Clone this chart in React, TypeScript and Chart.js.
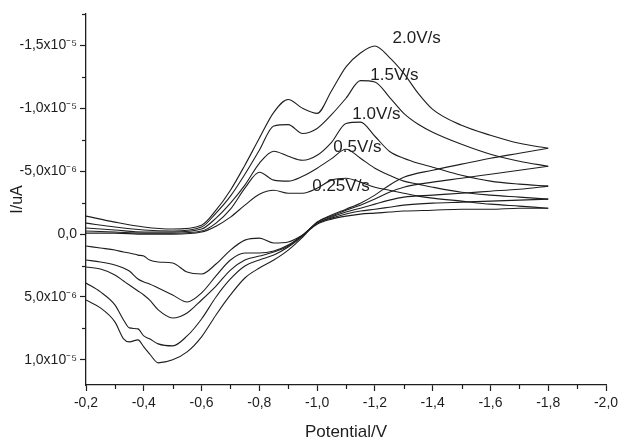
import { useEffect, useRef } from "react";
import { Chart, registerables } from "chart.js";

Chart.register(...registerables);

// Potential grids (V)
const FORWARD_E = [-0.2, -0.3, -0.4, -0.5, -0.6, -0.65, -0.7, -0.75, -0.8, -0.85, -0.9, -0.95, -1.0, -1.05, -1.1, -1.15, -1.2, -1.25, -1.3, -1.35, -1.4, -1.5, -1.6, -1.7, -1.8];
const REVERSE_E = [-1.8, -1.7, -1.6, -1.5, -1.4, -1.3, -1.25, -1.2, -1.15, -1.1, -1.05, -1.0, -0.95, -0.9, -0.85, -0.8, -0.75, -0.7, -0.65, -0.6, -0.55, -0.5, -0.45, -0.42, -0.4, -0.38, -0.35, -0.33, -0.3, -0.25, -0.2];

// Currents in units of 1e-6 A
const FWD_200 = [-1.43, -0.95, -0.56, -0.4, -0.71, -1.9, -3.49, -5.48, -7.62, -9.68, -10.7, -10.0, -9.6, -11.4, -13.3, -14.4, -14.95, -14.05, -12.78, -11.19, -9.92, -8.65, -7.86, -7.22, -6.83];
const FWD_150 = [-0.87, -0.56, -0.32, -0.24, -0.56, -1.67, -3.02, -4.76, -6.67, -8.6, -8.7, -8.0, -8.4, -9.5, -10.8, -12.2, -12.1, -10.9, -9.6, -8.73, -8.1, -7.14, -6.35, -5.79, -5.4];
const FWD_100 = [-0.48, -0.32, -0.16, -0.16, -0.4, -1.27, -2.46, -3.89, -5.63, -6.59, -6.19, -5.87, -6.27, -7.3, -8.8, -8.9, -7.78, -6.59, -6.03, -5.63, -5.32, -4.68, -4.21, -3.97, -3.81];
const FWD_050 = [-0.24, -0.16, -0.08, -0.08, -0.24, -0.87, -1.98, -3.65, -4.92, -4.29, -4.21, -4.6, -5.24, -6.0, -6.75, -6.03, -5.24, -4.68, -4.21, -3.97, -3.73, -3.33, -3.1, -2.94, -2.78];
const FWD_025 = [-0.08, -0.08, 0, 0, -0.16, -0.63, -1.35, -2.3, -3.17, -3.49, -3.25, -3.25, -3.65, -4.29, -4.44, -4.13, -3.73, -3.49, -3.25, -3.02, -2.86, -2.62, -2.38, -2.22, -2.06];

const REV_200 = [-6.83, -6.43, -6.03, -5.56, -5.08, -4.52, -3.89, -3.1, -2.46, -1.98, -1.51, -0.95, 0.24, 1.27, 2.06, 2.7, 3.49, 4.84, 6.43, 8.17, 9.37, 10.0, 10.24, 9.52, 8.97, 8.41, 8.57, 8.33, 6.98, 5.87, 5.24];
const REV_150 = [-5.4, -5.08, -4.76, -4.44, -4.13, -3.73, -3.33, -2.78, -2.3, -1.9, -1.43, -0.95, 0.16, 1.03, 1.67, 2.06, 2.54, 3.57, 5.0, 6.75, 8.1, 8.89, 8.73, 8.33, 8.1, 7.54, 7.46, 6.83, 5.63, 4.6, 3.89];
const REV_100 = [-3.81, -3.57, -3.41, -3.25, -3.1, -2.94, -2.7, -2.38, -2.06, -1.75, -1.35, -0.87, 0.08, 0.95, 1.43, 1.75, 2.06, 2.86, 4.13, 5.24, 6.27, 6.67, 6.03, 5.24, 4.84, 4.52, 4.05, 3.73, 3.25, 2.78, 2.62];
const REV_050 = [-2.78, -2.7, -2.62, -2.54, -2.46, -2.3, -2.14, -1.98, -1.83, -1.59, -1.27, -0.87, 0.08, 0.87, 1.35, 1.51, 1.51, 2.06, 3.33, 4.68, 5.4, 4.84, 4.29, 3.97, 3.81, 3.57, 2.94, 2.7, 2.46, 2.22, 2.06];
const REV_025 = [-2.06, -2.06, -1.98, -1.98, -1.9, -1.83, -1.75, -1.67, -1.59, -1.43, -1.19, -0.79, 0.08, 0.63, 0.71, 0.32, 0.48, 1.27, 2.38, 3.17, 3.02, 2.3, 2.22, 2.06, 1.75, 1.67, 1.51, 1.43, 1.27, 1.11, 0.95];

const RATE_LABELS = ["2.0V/s", "1.5V/s", "1.0V/s", "0.5V/s", "0.25V/s"];
const LABEL_E = [-1.261, -1.184, -1.122, -1.056, -0.983];
const LABEL_I = [-15.56, -12.62, -9.52, -6.9, -3.81];

const X_TICKS = [-0.2, -0.4, -0.6, -0.8, -1.0, -1.2, -1.4, -1.6, -1.8, -2.0];
const X_TICK_LABELS = ["-0,2", "-0,4", "-0,6", "-0,8", "-1,0", "-1,2", "-1,4", "-1,6", "-1,8", "-2,0"];
const X_MINOR = [-0.3, -0.5, -0.7, -0.9, -1.1, -1.3, -1.5, -1.7, -1.9];
const Y_TICKS = [-15, -10, -5, 0, 5, 10];
const Y_TICK_LABELS = ["-1,5x10\u207B\u2075", "-1,0x10\u207B\u2075", "-5,0x10\u207B\u2076", "0,0", "5,0x10\u207B\u2076", "1,0x10\u207B\u2075"];
const Y_MINOR = [-17.5, -12.5, -7.5, -2.5, 2.5, 7.5];

const FONT = '"Liberation Sans", Arial, sans-serif';
const INK = "#1e1e1e";

const annotate = {
  id: "annotate",
  afterDraw(chart: any) {
    const { ctx, chartArea } = chart;
    const x = chart.scales.x;
    const y = chart.scales.y;
    ctx.save();
    ctx.strokeStyle = INK;
    ctx.lineWidth = 1.2;
    X_MINOR.forEach((v) => {
      const px = Math.round(x.getPixelForValue(v)) + 0.5;
      ctx.beginPath();
      ctx.moveTo(px, chartArea.bottom);
      ctx.lineTo(px, chartArea.bottom + 4);
      ctx.stroke();
    });
    Y_MINOR.forEach((v) => {
      const py = Math.round(y.getPixelForValue(v)) + 0.5;
      ctx.beginPath();
      ctx.moveTo(chartArea.left, py);
      ctx.lineTo(chartArea.left - 4, py);
      ctx.stroke();
    });
    ctx.fillStyle = INK;
    ctx.font = "17px " + FONT;
    ctx.textAlign = "left";
    ctx.textBaseline = "middle";
    RATE_LABELS.forEach((t, i) => {
      ctx.fillText(t, x.getPixelForValue(LABEL_E[i]), y.getPixelForValue(LABEL_I[i]));
    });
    ctx.restore();
  },
};

function series(es: number[], is: number[]) {
  return es.map((e, i) => ({ x: e, y: is[i] }));
}

export default function App() {
  const ref = useRef<HTMLCanvasElement | null>(null);
  useEffect(() => {
    if (!ref.current) return;
    const pairs: [number[], number[]][] = [
      [FORWARD_E, FWD_200], [REVERSE_E, REV_200],
      [FORWARD_E, FWD_150], [REVERSE_E, REV_150],
      [FORWARD_E, FWD_100], [REVERSE_E, REV_100],
      [FORWARD_E, FWD_050], [REVERSE_E, REV_050],
      [FORWARD_E, FWD_025], [REVERSE_E, REV_025],
    ];
    const chart = new Chart(ref.current, {
      type: "line",
      data: {
        datasets: pairs.map(([es, is]) => ({
          data: series(es, is),
          borderColor: INK,
          borderWidth: 1.1,
          pointRadius: 0,
          fill: false,
          cubicInterpolationMode: "monotone" as const,
        })),
      },
      options: {
        animation: false,
        responsive: false,
        devicePixelRatio: 1,
        layout: { padding: { left: 0, top: 14, right: 12, bottom: 0 } },
        plugins: { legend: { display: false }, tooltip: { enabled: false } },
        scales: {
          x: {
            type: "linear",
            min: -2.0,
            max: -0.2,
            reverse: true,
            afterFit: (s: any) => { s.height = 60; s.paddingLeft = 0; s.paddingRight = 0; },
            afterBuildTicks: (s: any) => { s.ticks = X_TICKS.map((v) => ({ value: v })); },
            ticks: {
              autoSkip: false,
              maxRotation: 0,
              padding: 4,
              color: INK,
              font: { family: FONT, size: 14 },
              callback: (_v: any, i: number) => X_TICK_LABELS[i],
            },
            grid: { drawOnChartArea: false, drawTicks: true, tickLength: 6, tickColor: INK, tickWidth: 1.2 },
            border: { display: true, color: INK, width: 1.3 },
            title: { display: true, text: "Potential/V", color: INK, font: { family: FONT, size: 17 }, padding: { top: 0, bottom: 2 } },
          },
          y: {
            type: "linear",
            min: -17.5,
            max: 12,
            reverse: true,
            afterFit: (s: any) => { s.width = 86; s.paddingTop = 0; s.paddingBottom = 0; },
            afterBuildTicks: (s: any) => { s.ticks = Y_TICKS.map((v) => ({ value: v })); },
            ticks: {
              autoSkip: false,
              padding: 3,
              color: INK,
              font: { family: FONT, size: 14 },
              callback: (_v: any, i: number) => Y_TICK_LABELS[i],
            },
            grid: { drawOnChartArea: false, drawTicks: true, tickLength: 6, tickColor: INK, tickWidth: 1.2 },
            border: { display: true, color: INK, width: 1.3 },
            title: { display: true, text: "I/uA", color: INK, font: { family: FONT, size: 16 }, padding: { top: 8, bottom: 0 } },
          },
        },
      },
      plugins: [annotate],
    });
    return () => chart.destroy();
  }, []);
  return (
    <div style={{ position: "fixed", left: 0, top: 0, width: 618, height: 445, background: "#fff" }}>
      <canvas ref={ref} width={618} height={445} />
    </div>
  );
}
